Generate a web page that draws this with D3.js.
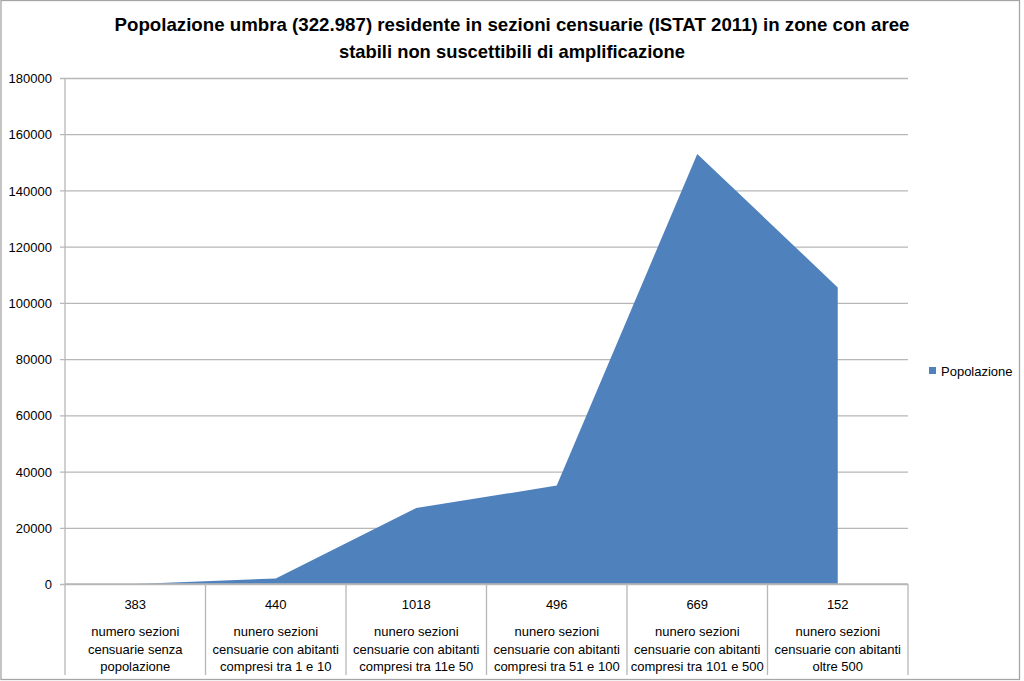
<!DOCTYPE html>
<html><head><meta charset="utf-8">
<script src="https://cdn.jsdelivr.net/npm/d3@7"></script>
<style>
html,body{margin:0;padding:0;background:#fff;}
text{font-family:"Liberation Sans",Arial,sans-serif;fill:#000;}
</style></head>
<body>
<script>
const titleLines = ["Popolazione umbra (322.987) residente in sezioni censuarie (ISTAT 2011) in zone con aree","stabili non suscettibili di amplificazione"];
const counts = ["383","440","1018","496","669","152"];
const categoryLabels = [
  ["numero sezioni","censuarie senza","popolazione"],
  ["nunero sezioni","censuarie con abitanti","compresi tra 1 e 10"],
  ["nunero sezioni","censuarie con abitanti","compresi tra 11e 50"],
  ["nunero sezioni","censuarie con abitanti","compresi tra 51 e 100"],
  ["nunero sezioni","censuarie con abitanti","compresi tra 101 e 500"],
  ["nunero sezioni","censuarie con abitanti","oltre 500"]
];
const popolazione = [0, 2000, 27000, 35000, 153000, 105500];
const yTicks = [0,20000,40000,60000,80000,100000,120000,140000,160000,180000];
const seriesName = "Popolazione";

(function(){
const W = 1024, H = 681;
const svg = d3.select("body").append("svg").attr("width", W).attr("height", H);

// outer border
svg.append("rect").attr("x",1).attr("y",0.5).attr("width",1018.5).attr("height",679)
  .attr("fill","#fff").attr("stroke","#a6a6a6").attr("stroke-width",1.3);

const pL = 65, pR = 908, pT = 78, pB = 584;
const x = d3.scaleBand().domain(d3.range(counts.length)).range([pL, pR]).padding(0);
const y = d3.scaleLinear().domain([0,180000]).range([pB, pT]);

// gridlines
const yAxis = d3.axisLeft(y).tickValues(yTicks).tickSize(-(pR-pL)).tickFormat(d3.format("d")).tickPadding(13);
const ga = svg.append("g").attr("transform",`translate(${pL},0)`).call(yAxis);
ga.select(".domain").remove();
ga.selectAll(".tick line").attr("stroke","#b7b7b7").attr("stroke-width",1.3).attr("x1",-5);
ga.selectAll(".tick text").attr("font-size",13).attr("fill","#000").attr("dy","0.35em")
  .style("font-family","'Liberation Sans',Arial,sans-serif");

// area
const area = d3.area()
  .x((d,i)=> x(i) + x.bandwidth()/2)
  .y0(y(0))
  .y1(d=> y(d));
svg.append("path").datum(popolazione).attr("d", area).attr("fill","#4f81bd");

// axis lines
svg.append("line").attr("x1",pL).attr("x2",pL).attr("y1",pT).attr("y2",675)
  .attr("stroke","#b7b7b7").attr("stroke-width",1.3);
svg.append("line").attr("x1",pL).attr("x2",pR).attr("y1",pB).attr("y2",pB)
  .attr("stroke","#b7b7b7").attr("stroke-width",1.3);
// category separators
d3.range(1, counts.length+1).forEach(i=>{
  const xx = i < counts.length ? x(i) : pR;
  svg.append("line").attr("x1",xx).attr("x2",xx).attr("y1",pB).attr("y2",675)
    .attr("stroke","#b7b7b7").attr("stroke-width",1.3);
});

// category labels
const cat = svg.append("g");
counts.forEach((c,i)=>{
  const cx = x(i) + x.bandwidth()/2;
  cat.append("text").attr("x",cx).attr("y",609).attr("text-anchor","middle").attr("font-size",13).text(c);
  categoryLabels[i].forEach((l,j)=>{
    cat.append("text").attr("x",cx).attr("y",636 + j*17.5).attr("text-anchor","middle").attr("font-size",13).text(l);
  });
});

// title
const tl = [{t:titleLines[0], y:31, w:795},{t:titleLines[1], y:58, w:346}];
tl.forEach(d=>{
  svg.append("text").attr("x",512).attr("y",d.y).attr("text-anchor","middle")
    .attr("font-size",19).attr("font-weight","bold")
    .attr("textLength",d.w).attr("lengthAdjust","spacingAndGlyphs").text(d.t);
});

// legend
svg.append("rect").attr("x",929).attr("y",367).attr("width",7).attr("height",7).attr("fill","#4f81bd");
svg.append("text").attr("x",941).attr("y",375.5).attr("font-size",13).text(seriesName);
})();
</script>
</body></html>
